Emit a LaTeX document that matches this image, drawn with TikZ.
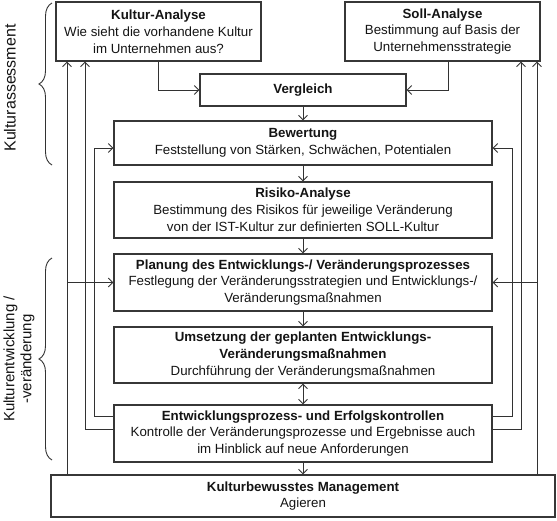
\documentclass[tikz,border=0pt]{standalone}
\usepackage{fontspec}
\setmainfont{Liberation Sans}
\usetikzlibrary{arrows.meta,decorations.pathreplacing,calc}
\definecolor{boxc}{RGB}{55,55,55}
\definecolor{linec}{RGB}{50,50,50}
\definecolor{txtc}{RGB}{20,20,20}
\begin{document}
\begin{tikzpicture}[x=1pt,y=-1pt,
  box/.style={draw=boxc,line width=1.2pt,align=center,inner sep=0pt,
    font=\fontsize{13.3}{16.8}\selectfont,text=txtc},
  arr/.style={draw=linec,line width=0.9pt,-{Straight Barb[length=4.5pt,width=9pt]}},
  dbl/.style={draw=linec,line width=0.9pt,{Straight Barb[length=4.5pt,width=9pt]}-{Straight Barb[length=4.5pt,width=9pt]}},
  brc/.style={draw=linec,line width=0.9pt,decorate,decoration={brace,amplitude=13pt}},
  side/.style={rotate=90,align=center,text=txtc,font=\fontsize{15}{17}\selectfont}
  ]
\useasboundingbox (0,0) rectangle (557,520);
\node[box,minimum width=205pt,minimum height=59pt] (ka) at (158.5,31.5)
  {\textbf{Kultur-Analyse}\\Wie sieht die vorhandene Kultur\\im Unternehmen aus?};
\node[box,minimum width=195pt,minimum height=59pt] (sa) at (442.5,31.5)
  {\textbf{Soll-Analyse}\\Bestimmung auf Basis der\\Unternehmensstrategie};
\node[box,minimum width=206pt,minimum height=32pt] (vg) at (303,90)
  {\textbf{Vergleich}};
\node[box,minimum width=378pt,minimum height=44pt] (bw) at (303,143)
  {\textbf{Bewertung}\\Feststellung von Stärken, Schwächen, Potentialen};
\node[box,minimum width=378pt,minimum height=56pt] (rk) at (303,210)
  {\textbf{Risiko-Analyse}\\Bestimmung des Risikos für jeweilige Veränderung\\von der IST-Kultur zur definierten SOLL-Kultur};
\node[box,minimum width=378pt,minimum height=57pt] (pl) at (303,282.5)
  {\textbf{Planung des Entwicklungs-/ Veränderungsprozesses}\\Festlegung der Veränderungsstrategien und Entwicklungs-/\\Veränderungsmaßnahmen};
\node[box,minimum width=378pt,minimum height=56pt] (us) at (303,355)
  {\textbf{Umsetzung der geplanten Entwicklungs-}\\\textbf{Veränderungsmaßnahmen}\\Durchführung der Veränderungsmaßnahmen};
\node[box,minimum width=378pt,minimum height=57pt] (en) at (303,433.5)
  {\textbf{Entwicklungsprozess- und Erfolgskontrollen}\\Kontrolle der Veränderungsprozesse und Ergebnisse auch\\im Hinblick auf neue Anforderungen};
\node[box,minimum width=504pt,minimum height=42pt] (mg) at (303,496)
  {\textbf{Kulturbewusstes Management}\\Agieren};

\coordinate (L1) at (67,0);
\coordinate (L2) at (85,0);
\coordinate (L3) at (94,0);
\coordinate (R1) at (537,0);
\coordinate (R2) at (521,0);
\coordinate (R3) at (512,0);
\coordinate (bwl) at ([yshift=-5pt]bw.west);
\coordinate (bwr) at ([yshift=-5pt]bw.east);
\coordinate (enl1) at ([yshift=17.5pt]en.west);
\coordinate (enl2) at ([yshift=4.5pt]en.west);
\coordinate (enr1) at ([yshift=17.5pt]en.east);
\coordinate (enr2) at ([yshift=4.5pt]en.east);
\coordinate (sas) at ([xshift=5.5pt]sa.south);

\draw[arr] (ka.south) |- (vg.west);
\draw[arr] (sas) |- (vg.east);
\draw[arr] (vg.south) -- (bw.north);
\draw[arr] (bw.south) -- (rk.north);
\draw[arr] (rk.south) -- (pl.north);
\draw[arr] (pl.south) -- (us.north);
\draw[dbl] (us.south) -- (en.north);
\draw[arr] (en.south) -- (mg.north);

\draw[arr] (L1 |- mg.north) -- (L1 |- ka.south);
\draw[arr] (L1 |- pl.west) -- (pl.west);
\draw[arr] (enl2) -| (L2 |- ka.south);
\draw[arr] (enl1) -| (L3 |- bwl) -- (bwl);
\draw[arr] (R1 |- mg.north) -- (R1 |- sa.south);
\draw[arr] (R1 |- pl.east) -- (pl.east);
\draw[arr] (enr2) -| (R2 |- sa.south);
\draw[arr] (enr1) -| (R3 |- bwr) -- (bwr);

\draw[brc] (52,165) -- (52,3);
\draw[brc] (52,460) -- (52,258);
\node[side,font=\fontsize{16}{18}\selectfont] (t1) at (10,88) {Kulturassessment};
\node[side] (t2) at (19,359) {Kulturentwicklung /\\-veränderung};
\end{tikzpicture}
\end{document}
